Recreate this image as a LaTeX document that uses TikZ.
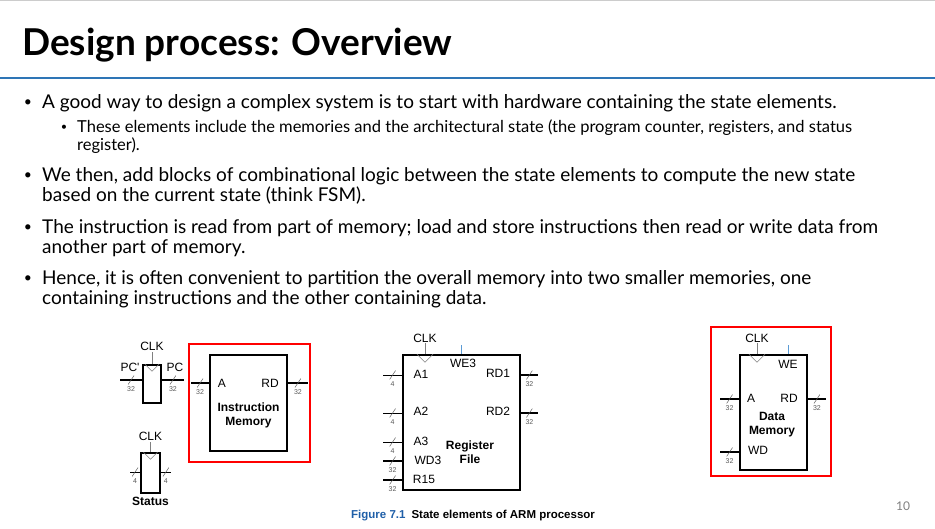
\documentclass[tikz,border=0pt]{standalone}
\usepackage{fontspec}
\setmainfont{Lato}
\newfontfamily\arial{Liberation Sans}
\usepackage{xcolor}
\definecolor{slide-blue}{HTML}{2E75B6}
\definecolor{fig-blue}{HTML}{1F5FA8}
\definecolor{we-blue}{HTML}{5B9BD5}
\definecolor{frame-red}{HTML}{FF0000}
\usetikzlibrary{positioning}
\tikzset{reg/.style = {draw, line width=1.6pt, inner sep=0pt}}
\tikzset{wire/.style = {line width=0.8pt}}
\tikzset{thick wire/.style = {line width=1.6pt}}
\tikzset{pin/.style = {font=\arial\fontsize{12}{12}\selectfont, inner sep=1pt}}
\tikzset{title/.style = {font=\arial\bfseries\fontsize{12}{14}\selectfont, align=center}}
\tikzset{width/.style = {font=\arial\fontsize{7}{7}\selectfont, text=gray!70!black, inner sep=1pt}}
\tikzset{slash/.style = {inner sep=0pt, minimum width=6pt, minimum height=9pt,
  path picture={\draw[line width=0.5pt, gray!70!black] (path picture bounding box.south west) -- (path picture bounding box.north east);}}}
\tikzset{clk/.style = {draw, gray, line width=0.6pt}}
\tikzset{bullet/.style = {anchor=west, align=left, inner sep=0pt, font=\fontsize{19}{20}\selectfont}}

\begin{document}
\begin{tikzpicture}[x=1pt, y=-1pt]
\useasboundingbox (0,0) rectangle (935,528);
\draw[gray!40] (0,0.5) -- (935,0.5);

% slide header
\node[anchor=west, inner sep=0pt, font=\bfseries\fontsize{37}{37}\selectfont] (head) at (22,45) {Design process: Overview};
\draw[slide-blue, line width=2pt] (0,78) -- (935,78);

% bullets
\node[bullet] (t1) at (42,103) {A good way to design a complex system is to start with hardware containing the state elements.};
\node[bullet, font=\fontsize{16.5}{18}\selectfont] (t1a) at (77,137) {These elements include the memories and the architectural state (the program counter, registers, and status\\register).};
\node[bullet] (t2) at (42,186) {We then, add blocks of combinational logic between the state elements to compute the new state\\based on the current state (think FSM).};
\node[bullet] (t3) at (42,238) {The instruction is read from part of memory; load and store instructions then read or write data from\\another part of memory.};
\node[bullet] (t4) at (42,289) {Hence, it is often convenient to partition the overall memory into two smaller memories, one\\containing instructions and the other containing data.};
\foreach \y in {103,176,228,279}
  \node[font=\fontsize{14}{14}\selectfont] at (28,\y) {\textbullet};
\node[font=\fontsize{11}{11}\selectfont] at (64,128) {\textbullet};

% program counter
\node[reg, minimum width=18pt, minimum height=38pt] (pc) at (152,384) {};
\node[pin, above=12pt of pc] (pcclk) {CLK};
\draw[clk] (pcclk.south) -- (pc.north);
\draw[clk] ([xshift=-7pt]pc.north) -- ([yshift=-7pt]pc.north) -- ([xshift=7pt]pc.north);
\coordinate (pcin) at (120,380);
\coordinate (pcout) at (184,380);
\draw[thick wire] (pcin) -- (pc.west|-pcin) node[slash, midway, label={[width]below:32}]{};
\draw[thick wire] (pc.east|-pcout) -- (pcout) node[slash, midway, label={[width]below:32}]{};
\node[pin] at (130,367) {PC'};
\node[pin] at (175,367) {PC};

% status register
\node[reg, minimum width=19pt, minimum height=40pt] (st) at (150.5,473) {};
\node[pin, above=10pt of st] (stclk) {CLK};
\draw[clk] (stclk.south) -- (st.north);
\draw[clk] ([xshift=-7pt]st.north) -- ([yshift=-7pt]st.north) -- ([xshift=7pt]st.north);
\coordinate (stin) at (130,472);
\coordinate (stout) at (171,472);
\draw[wire] (stin) -- (st.west|-stin) node[slash, midway, label={[width]below:4}]{};
\draw[wire] (st.east|-stout) -- (stout) node[slash, midway, label={[width]below:4}]{};
\node[title, below=0pt of st] (stname) {Status};

% instruction memory
\draw[frame-red, line width=1.5pt] (189,344) rectangle (310,462);
\node[reg, minimum width=77pt, minimum height=96pt] (imem) at (248.5,403) {};
\coordinate (imin) at (191,383);
\coordinate (imout) at (308,383);
\draw[thick wire] (imin) -- (imem.west|-imin) node[slash, midway, label={[width]below:32}]{};
\draw[thick wire] (imem.east|-imout) -- (imout) node[slash, midway, label={[width]below:32}]{};
\node[pin] at (222,383) {A};
\node[pin] at (270,383) {RD};
\node[title] at (248.5,415) {Instruction\\Memory};

% register file
\node[reg, minimum width=117pt, minimum height=135pt] (rf) at (461.5,422.5) {};
\node[pin] (rfclk) at (425,338) {CLK};
\draw[clk] (rfclk.south) -- (rfclk.south|-rf.north);
\draw[clk] ([xshift=-8pt]rfclk.south|-rf.north) -- ([yshift=-8pt]rfclk.south|-rf.north) -- ([xshift=8pt]rfclk.south|-rf.north);
\coordinate (we3) at (461,345);
\draw[we-blue, line width=0.6pt] (we3) -- (we3|-rf.north);
\foreach \y/\n in {375/a1, 413/a2, 442/a3, 461/wd3, 480/r15}
  \coordinate (\n) at (383,\y);
\draw[wire] (a1) -- (rf.west|-a1) node[slash, midway, label={[width]below:4}]{};
\draw[wire] (a2) -- (rf.west|-a2) node[slash, midway, label={[width]below:4}]{};
\draw[wire] (a3) -- (rf.west|-a3) node[slash, midway, label={[width]below:4}]{};
\draw[thick wire] (wd3) -- (rf.west|-wd3) node[slash, midway, label={[width]below:32}]{};
\draw[thick wire] (r15) -- (rf.west|-r15) node[slash, midway, label={[width]below:32}]{};
\coordinate (rd1) at (538,375);
\coordinate (rd2) at (538,413);
\draw[thick wire] (rf.east|-rd1) -- (rd1) node[slash, midway, label={[width]below:32}]{};
\draw[thick wire] (rf.east|-rd2) -- (rd2) node[slash, midway, label={[width]below:32}]{};
\node[pin] at (463,363) {WE3};
\node[pin] at (421,374) {A1};
\node[pin] at (498,373) {RD1};
\node[pin] at (421,411) {A2};
\node[pin] at (498,411) {RD2};
\node[pin] at (421,441) {A3};
\node[pin] at (428,460) {WD3};
\node[pin] at (424,479) {R15};
\node[title] at (470,452) {Register\\File};
\node[anchor=west, inner sep=0pt, font=\arial\bfseries\fontsize{11.5}{12}\selectfont] (cap) at (351,516)
  {\textcolor{fig-blue}{Figure 7.1}\hspace{6pt}State elements of ARM processor};

% data memory
\draw[frame-red, line width=1.5pt] (711,327) rectangle (831,476);
\node[reg, minimum width=67pt, minimum height=115pt] (dmem) at (773.5,412.5) {};
\node[pin] (dmclk) at (757,338) {CLK};
\draw[clk] (dmclk.south) -- (dmclk.south|-dmem.north);
\draw[clk] ([xshift=-8pt]dmclk.south|-dmem.north) -- ([yshift=-8pt]dmclk.south|-dmem.north) -- ([xshift=8pt]dmclk.south|-dmem.north);
\coordinate (we) at (788,345);
\draw[we-blue, line width=0.6pt] (we) -- (we|-dmem.north);
\coordinate (dmin) at (720,399);
\coordinate (dmwd) at (720,452);
\coordinate (dmout) at (826,399);
\draw[thick wire] (dmin) -- (dmem.west|-dmin) node[slash, midway, label={[width]below:32}]{};
\draw[thick wire] (dmwd) -- (dmem.west|-dmwd) node[slash, midway, label={[width]below:32}]{};
\draw[thick wire] (dmem.east|-dmout) -- (dmout) node[slash, midway, label={[width]below:32}]{};
\node[pin] at (788,364) {WE};
\node[pin] at (751,398) {A};
\node[pin] at (789,398) {RD};
\node[title] at (772,425) {Data\\Memory};
\node[pin] at (758,450) {WD};

\node[text=gray, font=\fontsize{12}{12}\selectfont] (page) at (903,506) {10};
\end{tikzpicture}
\end{document}
